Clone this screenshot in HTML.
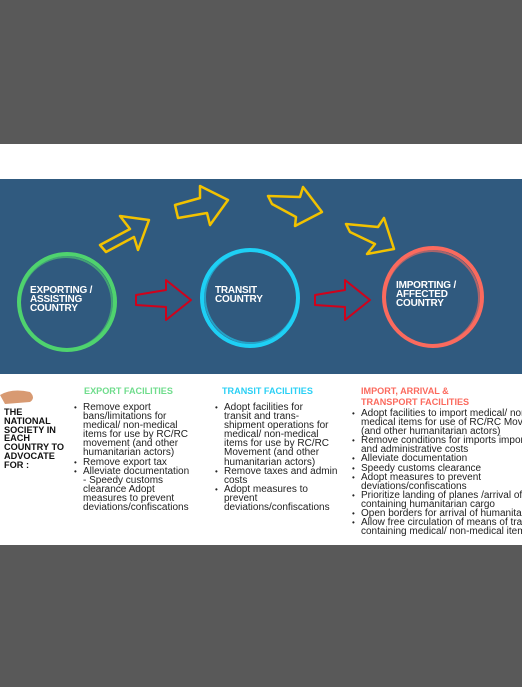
<!DOCTYPE html>
<html><head><meta charset="utf-8"><style>
body{margin:0;width:522px;height:687px;background:#595959;position:relative;overflow:hidden;font-family:"Liberation Sans",sans-serif}
.w{position:absolute;left:0;width:522px;background:#fff}
ul{position:absolute;margin:0;padding:0;list-style:none;font-size:10px;line-height:9.1px;color:#222;white-space:nowrap;letter-spacing:0}
li{position:relative;padding-left:0}
li:before{content:"•";position:absolute;left:-9px;font-size:8px}
.h{position:absolute;font-size:9.1px;font-weight:bold;white-space:nowrap;line-height:11px}
.c{position:absolute;color:#fff;font-weight:bold;font-size:10px;line-height:9px;white-space:nowrap;letter-spacing:-0.2px}
</style></head><body>
<div class="w" style="top:144px;height:35px"></div>
<div style="position:absolute;left:0;top:179px;width:522px;height:195px;background:#305a7f"></div>
<div class="w" style="top:374px;height:171px"></div>
<svg style="position:absolute;left:0;top:0" width="522" height="687">
<g fill="none" stroke="#f2c200" stroke-width="2.5" stroke-linejoin="round">
<polygon points="100,245 130,229 120,216 149,220 138,250 134,237 106,252"/>
<polygon points="175,205 200,198 200,186 228,200 210,225 207,213 178,218"/>
<polygon points="268,196 300,197 303,187 322,212 295,226 296,217 272,204"/>
<polygon points="346,224 378,227 384,218 394,249 367,254 375,244 350,232"/>
</g>
<g fill="none" stroke="#d0021b" stroke-width="2" stroke-linejoin="round">
<polygon points="136,295 166,290 166,280 191,300 166,320 166,307 136,305"/>
<polygon points="315,295 345,290 345,280 370,300 345,320 345,307 315,305"/>
</g>
<g fill="none" stroke-width="4">
<circle cx="67" cy="302" r="48" stroke="#4fd36e"/>
<circle cx="66" cy="303" r="46" stroke="#4fd36e" stroke-width="2" opacity=".6"/>
<circle cx="250" cy="298" r="48" stroke="#1ed0f5"/>
<circle cx="251" cy="297" r="46" stroke="#1ed0f5" stroke-width="2" opacity=".6"/>
<circle cx="433" cy="297" r="49" stroke="#fb6a5e"/>
<circle cx="432" cy="298" r="47" stroke="#fb6a5e" stroke-width="2" opacity=".6"/>
</g>
<path d="M0,395 Q12,388 30,392 Q36,398 30,402 L5,404 Z" fill="#d89a72"/>
</svg>
<div class="c" style="left:30px;top:286px">EXPORTING /<br>ASSISTING<br>COUNTRY</div>
<div class="c" style="left:215px;top:286px">TRANSIT<br>COUNTRY</div>
<div class="c" style="left:396px;top:281px">IMPORTING /<br>AFFECTED<br>COUNTRY</div>
<div style="position:absolute;left:4px;top:408px;font-weight:bold;font-size:9.2px;line-height:8.8px;color:#111;white-space:nowrap">THE<br>NATIONAL<br>SOCIETY IN<br>EACH<br>COUNTRY TO<br>ADVOCATE<br>FOR :</div>
<div class="h" style="left:84px;top:386px;color:#6fdc8c">EXPORT FACILITIES</div>
<div class="h" style="left:222px;top:386px;color:#2ad0f5">TRANSIT FACILITIES</div>
<div class="h" style="left:361px;top:386px;color:#fb6a5e">IMPORT, ARRIVAL &amp;<br>TRANSPORT FACILITIES</div>
<ul style="left:83px;top:403px">
<li>Remove export<br>bans/limitations for<br>medical/ non-medical<br>items for use by RC/RC<br>movement (and other<br>humanitarian actors)</li>
<li>Remove export tax</li>
<li>Alleviate documentation<br>- Speedy customs<br>clearance Adopt<br>measures to prevent<br>deviations/confiscations</li></ul>
<ul style="left:224px;top:403px">
<li>Adopt facilities for<br>transit and trans-<br>shipment operations for<br>medical/ non-medical<br>items for use by RC/RC<br>Movement (and other<br>humanitarian actors)</li>
<li>Remove taxes and admin<br>costs</li>
<li>Adopt measures to<br>prevent<br>deviations/confiscations</li></ul>
<div style="position:absolute;left:340px;top:400px;width:182px;height:145px;overflow:hidden">
<ul style="left:21px;top:9px">
<li>Adopt facilities to import medical/ non-<br>medical items for use of RC/RC Movement<br>(and other humanitarian actors)</li>
<li>Remove conditions for imports import<br>and administrative costs</li>
<li>Alleviate documentation</li>
<li>Speedy customs clearance</li>
<li>Adopt measures to prevent<br>deviations/confiscations</li>
<li>Prioritize landing of planes /arrival of<br>containing humanitarian cargo</li>
<li>Open borders for arrival of humanitarian</li>
<li>Allow free circulation of means of transport<br>containing medical/ non-medical items</li></ul></div>
</body></html>
